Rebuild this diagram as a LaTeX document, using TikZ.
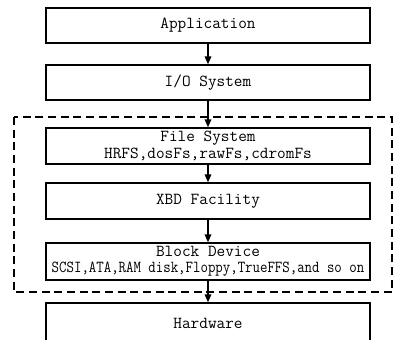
\documentclass[tikz,border=0pt]{standalone}
\usetikzlibrary{arrows.meta}
\begin{document}
\begin{tikzpicture}[x=0.75pt,y=-0.75pt,
  layer/.style={draw,line width=1.1pt,minimum width=243pt,inner sep=0pt,align=center,
    font=\ttfamily\fontsize{12.6}{10.8}\selectfont},
  flow/.style={line width=1.1pt,-{Triangle[length=6pt,width=5pt]}},
  group/.style={draw,line width=1.1pt,dash pattern=on 6pt off 3.5pt}]
\useasboundingbox (0,0) rectangle (395,339);
\draw[group] (14,117) rectangle (392,292);
\node[layer,minimum height=26.25pt] (app) at (208,25.5) {Application};
\node[layer,minimum height=26.25pt] (io) at (208,82.5) {I/O System};
\node[layer,minimum height=27pt] (fs) at (208,146) {File System\\[1.5pt]HRFS,dosFs,rawFs,cdromFs};
\node[layer,minimum height=27pt] (xbd) at (208,201) {XBD Facility};
\node[layer,minimum height=27.75pt] (bd) at (208,261.5) {Block Device\\[1.5pt]\scalebox{0.86}[1]{SCSI,ATA,RAM disk,Floppy,TrueFFS,and so on}};
\node[layer,minimum height=30pt] (hw) at (208,323) {Hardware};
\draw[flow] (app) -- (io);
\draw[flow] (io) -- (fs);
\draw[flow] (fs) -- (xbd);
\draw[flow] (xbd) -- (bd);
\draw[flow] (bd) -- (hw);
\end{tikzpicture}
\end{document}
